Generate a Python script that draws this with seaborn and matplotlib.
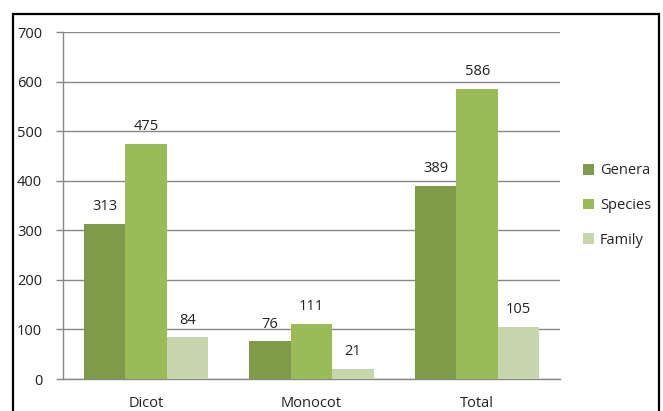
import matplotlib
matplotlib.use('Agg')
import matplotlib.pyplot as plt
import matplotlib.patches as patches
import seaborn as sns
import pandas as pd

categories = ['Dicot', 'Monocot', 'Total']
series = ['Genera', 'Species', 'Family']
genera = [313, 76, 389]
species = [475, 111, 586]
family = [84, 21, 105]
colors = ['#7F9A48', '#9BBB59', '#C8D6AE']

rows = []
for name, vals in zip(series, [genera, species, family]):
    for cat, v in zip(categories, vals):
        rows.append({'Group': cat, 'Series': name, 'Count': v})
df = pd.DataFrame(rows)

sns.set_style('white')
plt.rcParams['font.family'] = ['Open Sans', 'DejaVu Sans']

fig = plt.figure(figsize=(6.63, 4.11), dpi=100)
ax = fig.add_axes([63 / 663, 1 - 379 / 411, (560 - 63) / 663, (379 - 32) / 411])

sns.barplot(data=df, x='Group', y='Count', hue='Series', palette=colors,
            width=0.75, gap=0, saturation=1, linewidth=0, ax=ax, zorder=3, legend=True)

for cont in ax.containers:
    ax.bar_label(cont, padding=7, fontsize=10.5, color='#222222')

ax.set_ylim(0, 700)
ax.set_xlim(-0.5, 2.5)
ax.set_yticks(range(0, 701, 100))
ax.yaxis.grid(True, color='#888888', linewidth=1, zorder=0)
ax.set_axisbelow(True)
ax.set_xlabel('')
ax.set_ylabel('')

for s in ['top', 'right']:
    ax.spines[s].set_visible(False)
for s in ['left', 'bottom']:
    ax.spines[s].set_color('#888888')
    ax.spines[s].set_linewidth(1)

ax.set_xticks([-0.5, 0.5, 1.5, 2.5], minor=True)
ax.tick_params(axis='x', which='minor', direction='out', length=5, color='#888888', width=1)
ax.tick_params(axis='x', which='major', length=0, pad=12, labelsize=10.5, labelcolor='#222222')
ax.tick_params(axis='y', direction='out', length=5, color='#888888', width=1, pad=10,
               labelsize=10.5, labelcolor='#222222', left=True)

handles, labels = ax.get_legend_handles_labels()
ax.legend(handles, labels, loc='center left', bbox_to_anchor=(1.02, 0.5), frameon=False,
          fontsize=10.5, handlelength=0.75, handleheight=0.75, labelspacing=1.35, handletextpad=0.4)

border = patches.Rectangle((13 / 663, -0.2), (659 - 13) / 663, 1.2 - 14 / 411,
                           transform=fig.transFigure, fill=False, edgecolor='black',
                           linewidth=1.6, clip_on=False)
fig.patches.append(border)

fig.savefig('out.png', dpi=100, facecolor='white')
